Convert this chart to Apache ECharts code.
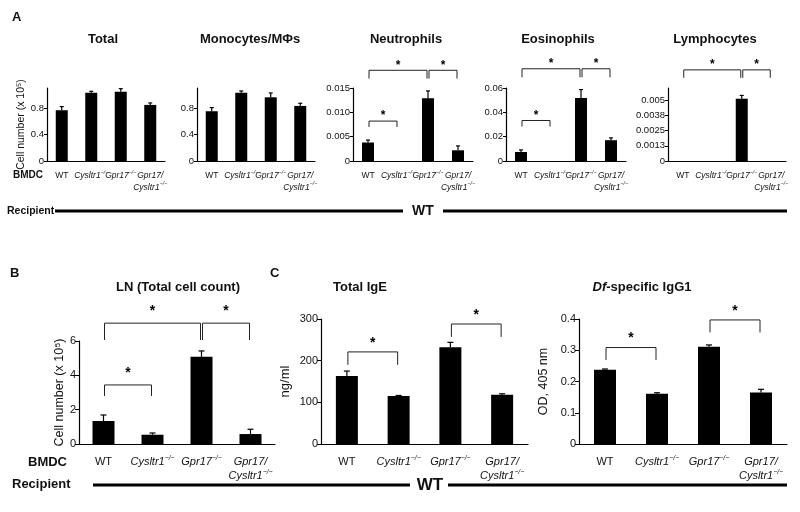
<!DOCTYPE html>
<html><head><meta charset="utf-8">
<script src="https://cdn.jsdelivr.net/npm/echarts@6/dist/echarts.min.js"></script>
<style>html,body{margin:0;padding:0;background:#fff}#c{width:800px;height:512px}</style>
</head><body><div id="c"></div>
<script>
const genotypes = ['WT', 'Cysltr1−/−', 'Gpr17−/−', 'Gpr17/Cysltr1−/−'];

// Panel A: cell number (x 10^5), mean and SEM
const totalMean = [0.765, 1.03, 1.045, 0.845];
const totalSem  = [0.055, 0.02, 0.045, 0.03];
const monoMean  = [0.75, 1.03, 0.96, 0.83];
const monoSem   = [0.055, 0.025, 0.065, 0.04];
const neutMean  = [0.0038, 0, 0.0129, 0.0022];
const neutSem   = [0.0005, 0, 0.0015, 0.0009];
const eosMean   = [0.0074, 0, 0.0518, 0.0171];
const eosSem    = [0.0017, 0, 0.0069, 0.0019];
const lymMean   = [0, 0, 0.00512, 0];
const lymSem    = [0, 0, 0.00027, 0];
// Panel B: LN total cell count (x 10^5)
const lnMean = [1.34, 0.54, 5.08, 0.58];
const lnSem  = [0.35, 0.10, 0.34, 0.28];
// Panel C: Total IgE (ng/ml) and Df-specific IgG1 (OD 405 nm)
const igeMean  = [163, 115, 232, 118];
const igeSem   = [12, 1.5, 12, 2.5];
const igg1Mean = [0.238, 0.161, 0.311, 0.165];
const igg1Sem  = [0.002, 0.003, 0.006, 0.010];

// Significance brackets: [from category, to category, bracket level, leg end level]
const neutSig = [[0, 2, 0.01864, 0.01693], [2, 3, 0.01864, 0.01693], [0, 1, 0.0082, 0.0070]];
const eosSig  = [[0, 2, 0.0758, 0.0688], [2, 3, 0.0758, 0.0688], [0, 1, 0.0333, 0.0283]];
const lymSig  = [[0, 2, 0.00749, 0.00684], [2, 3, 0.00749, 0.00684]];
const lnSig   = [[0, 2, 7.04, 6.06], [2, 3, 7.04, 6.06], [0, 1, 3.44, 2.8]];
const igeSig  = [[0, 1, 221, 190], [2, 3, 288, 257]];
const igg1Sig = [[0, 1, 0.3087, 0.269], [2, 3, 0.397, 0.357]];

// Axis ticks and tick labels
const totalTicks = [0, 0.4, 0.8];             const totalTickLabels = ['0', '0.4', '0.8'];
const neutTicks  = [0, 0.005, 0.010, 0.015];  const neutTickLabels  = ['0', '0.005', '0.010', '0.015'];
const eosTicks   = [0, 0.02, 0.04, 0.06];     const eosTickLabels   = ['0', '0.02', '0.04', '0.06'];
const lymTicks   = [0, 0.00125, 0.0025, 0.00375, 0.005];
const lymTickLabels = ['0', '0.0013', '0.0025', '0.0038', '0.005'];
const lnTicks    = [0, 2, 4, 6];              const lnTickLabels    = ['0', '2', '4', '6'];
const igeTicks   = [0, 100, 200, 300];        const igeTickLabels   = ['0', '100', '200', '300'];
const igg1Ticks  = [0, 0.1, 0.2, 0.3, 0.4];   const igg1TickLabels  = ['0', '0.1', '0.2', '0.3', '0.4'];

const FF = '"Liberation Sans", Arial, Helvetica, sans-serif';
const INK = '#111';

function catLabel(v) {
  if (v === 'WT') return '{n|WT}';
  return v.replace('/C', '/\nC').split('\n').map(function (line) {
    const m = line.match(/^(.*?)(−\/−)?$/);
    return '{i|' + m[1] + '}' + (m[2] ? '{s|' + m[2] + '}' : '');
  }).join('\n');
}

const panels = [
  {grid: {left: 47, top: 88, width: 118, height: 73}, max: 1.1, ticks: totalTicks, tl: totalTickLabels, mean: totalMean, sem: totalSem, sig: [], row: 'A', name: 'Cell number (x 10⁵)', nameSize: 10.5, nameGap: 18},
  {grid: {left: 197, top: 88, width: 118, height: 73}, max: 1.1, ticks: totalTicks, tl: totalTickLabels, mean: monoMean, sem: monoSem, sig: [], row: 'A'},
  {grid: {left: 353, top: 88, width: 120, height: 73}, max: 0.015, ticks: neutTicks, tl: neutTickLabels, mean: neutMean, sem: neutSem, sig: neutSig, row: 'A'},
  {grid: {left: 506, top: 88, width: 120, height: 73}, max: 0.06, ticks: eosTicks, tl: eosTickLabels, mean: eosMean, sem: eosSem, sig: eosSig, row: 'A'},
  {grid: {left: 668, top: 88, width: 118, height: 73}, max: 0.006, ticks: lymTicks, tl: lymTickLabels, mean: lymMean, sem: lymSem, sig: lymSig, row: 'A'},
  {grid: {left: 79, top: 341, width: 196, height: 103}, max: 6, ticks: lnTicks, tl: lnTickLabels, mean: lnMean, sem: lnSem, sig: lnSig, row: 'B', name: 'Cell number (x 10⁵)', nameSize: 12.5, nameGap: 9, starGap: 12},
  {grid: {left: 321, top: 319, width: 207, height: 125}, max: 300, ticks: igeTicks, tl: igeTickLabels, mean: igeMean, sem: igeSem, sig: igeSig, row: 'C', name: 'ng/ml', nameSize: 13, nameGap: 29},
  {grid: {left: 579, top: 319, width: 208, height: 125}, max: 0.4, ticks: igg1Ticks, tl: igg1TickLabels, mean: igg1Mean, sem: igg1Sem, sig: igg1Sig, row: 'C', name: 'OD, 405 nm', nameSize: 12.5, nameGap: 29}
];

const grids = [], xAxes = [], yAxes = [], series = [];
panels.forEach(function (p, k) {
  const small = p.row === 'A';
  const lf = small ? 8.5 : 11;
  grids.push(p.grid);
  xAxes.push({
    type: 'category', gridIndex: k, data: genotypes,
    axisLine: {show: true, lineStyle: {color: '#000', width: 1.2}},
    axisTick: {show: false}, splitLine: {show: false},
    axisLabel: {
      interval: 0, margin: small ? 9 : 11, color: INK, fontFamily: FF, fontSize: lf,
      formatter: catLabel,
      rich: {
        n: {fontSize: lf, fontFamily: FF, color: INK, lineHeight: lf + 3},
        i: {fontSize: lf, fontFamily: FF, fontStyle: 'italic', color: INK, lineHeight: lf + 3},
        s: {fontSize: lf * 0.62, fontFamily: FF, fontStyle: 'italic', color: INK, verticalAlign: 'top', lineHeight: lf * 0.62}
      }
    }
  });
  const ticks = p.ticks, tl = p.tl;
  yAxes.push({
    type: 'value', gridIndex: k, min: 0, max: p.max,
    name: p.name || '', nameLocation: 'middle', nameRotate: 90, nameGap: p.nameGap || 20,
    nameTextStyle: {fontFamily: FF, fontSize: p.nameSize || 10, color: INK},
    axisLine: {show: true, lineStyle: {color: '#000', width: 1.2}},
    axisTick: {show: true, length: small ? 3 : 4, customValues: ticks, lineStyle: {color: '#000'}},
    splitLine: {show: false},
    axisLabel: {
      customValues: ticks, margin: 3, color: INK, fontFamily: FF, fontSize: small ? 9.5 : 11,
      formatter: function (v) {
        for (let i = 0; i < ticks.length; i++) if (Math.abs(v - ticks[i]) < 1e-9) return tl[i];
        return '';
      }
    }
  });
  series.push({
    type: 'bar', xAxisIndex: k, yAxisIndex: k, barWidth: small ? 12 : 22,
    itemStyle: {color: '#000'}, data: p.mean, silent: true, animation: false
  });
  const cap = small ? 2 : 3;
  series.push({
    type: 'custom', xAxisIndex: k, yAxisIndex: k, z: 5, animation: false, silent: true,
    encode: {x: 0, y: 1},
    data: p.mean.map(function (m, i) { return [i, m, p.sem[i]]; }),
    renderItem: function (params, api) {
      const x = api.value(0), v = api.value(1), e = api.value(2);
      if (!e) return null;
      const a = api.coord([x, v]), b = api.coord([x, v + e]);
      return {type: 'group', children: [
        {type: 'line', shape: {x1: a[0], y1: a[1], x2: b[0], y2: b[1]}, style: {stroke: '#000', lineWidth: 1.2}},
        {type: 'line', shape: {x1: b[0] - cap, y1: b[1], x2: b[0] + cap, y2: b[1]}, style: {stroke: '#000', lineWidth: 1.2}}
      ]};
    }
  });
  if (p.sig.length) {
    const sg = p.starGap || (small ? 5 : 9);
    const sf = small ? 12 : 14;
    series.push({
      type: 'custom', xAxisIndex: k, yAxisIndex: k, z: 5, animation: false, silent: true, clip: false,
      encode: {x: [0, 1], y: [2, 3]},
      data: p.sig,
      renderItem: function (params, api) {
        const p1 = api.coord([api.value(0), api.value(2)]);
        const p2 = api.coord([api.value(1), api.value(2)]);
        const leg = api.coord([api.value(0), api.value(3)]);
        const x1 = p1[0] + 1, x2 = p2[0] - 1, y = p1[1], yl = leg[1];
        return {type: 'group', children: [
          {type: 'polyline', shape: {points: [[x1, yl], [x1, y], [x2, y], [x2, yl]]}, style: {stroke: '#222', lineWidth: 1, fill: null}},
          {type: 'text', style: {text: '*', x: (x1 + x2) / 2, y: y - sg, textAlign: 'center', textVerticalAlign: 'middle', font: 'bold ' + sf + 'px ' + FF, fill: '#000'}}
        ]};
      }
    });
  }
});

function txt(text, x, y, size, opts) {
  opts = opts || {};
  return {type: 'text', silent: true, style: {
    text: text, x: x, y: y, textAlign: opts.align || 'center', textVerticalAlign: 'middle',
    font: (opts.weight || 'bold') + ' ' + size + 'px ' + FF, fill: INK, rich: opts.rich
  }};
}
function hline(x1, x2, y) {
  return {type: 'line', silent: true, shape: {x1: x1, y1: y, x2: x2, y2: y}, style: {stroke: '#000', lineWidth: 3}};
}

const graphics = [
  txt('A', 12, 17, 13, {align: 'left'}),
  txt('Total', 103, 39, 13),
  txt('Monocytes/MΦs', 250, 39, 13),
  txt('Neutrophils', 406, 39, 13),
  txt('Eosinophils', 558, 39, 13),
  txt('Lymphocytes', 715, 39, 13),
  txt('BMDC', 13, 175, 10, {align: 'left'}),
  txt('Recipient', 7, 211, 10.5, {align: 'left'}),
  hline(55, 403, 211), txt('WT', 423, 211, 14), hline(443, 787, 211),
  txt('B', 10, 273, 13, {align: 'left'}),
  txt('C', 270, 273, 13, {align: 'left'}),
  txt('LN (Total cell count)', 178, 287, 13),
  txt('Total IgE', 333, 287, 13, {align: 'left'}),
  txt('{bi|Df}-specific IgG1', 642, 287, 13, {rich: {bi: {font: 'italic bold 13px ' + FF, fill: INK}}}),
  txt('BMDC', 28, 462, 13, {align: 'left'}),
  txt('Recipient', 12, 484, 13, {align: 'left'}),
  hline(93, 410, 485), txt('WT', 430, 485, 17), hline(448, 787, 485)
];

const chart = echarts.init(document.getElementById('c'), null, {renderer: 'canvas'});
chart.setOption({
  backgroundColor: '#fff', animation: false,
  grid: grids, xAxis: xAxes, yAxis: yAxes, series: series, graphic: graphics
});
</script></body></html>
